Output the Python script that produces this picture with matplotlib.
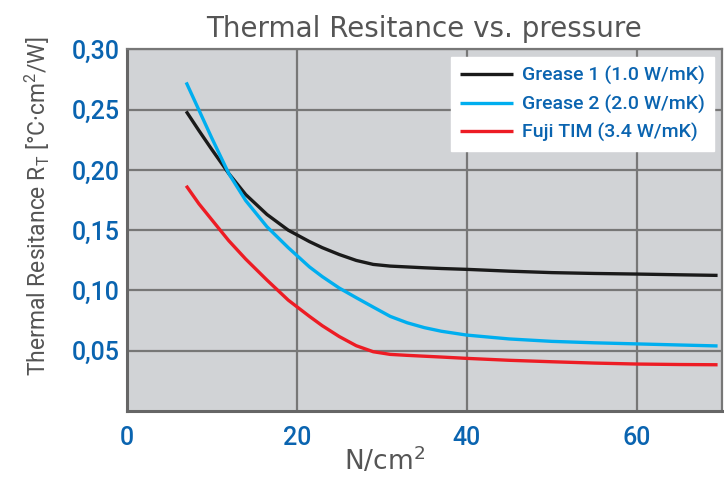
import matplotlib.pyplot as plt

# pressure in N/cm^2 and thermal resistance in degC.cm^2/W
pressure = [7, 8.5, 10, 12, 14, 16.5, 19, 21.5, 23, 25, 27, 29, 31, 33, 35, 37, 40, 45, 50, 55, 60, 65, 69.5]
grease1 = [0.2485, 0.2325, 0.217, 0.197, 0.1795, 0.163, 0.150, 0.1405, 0.1355, 0.1298, 0.1249,
           0.1216, 0.1202, 0.1195, 0.1188, 0.1182, 0.1175, 0.1160, 0.1148, 0.1141, 0.1136, 0.1130, 0.1125]
grease2 = [0.2725, 0.2495, 0.2265, 0.197, 0.1745, 0.1528, 0.1355, 0.1195, 0.1115, 0.102, 0.094,
           0.0862, 0.0785, 0.0732, 0.0692, 0.0662, 0.063, 0.0598, 0.0578, 0.0566, 0.0557, 0.0548, 0.054]
fuji_tim = [0.1868, 0.1718, 0.1587, 0.1413, 0.126, 0.1086, 0.092, 0.0785, 0.0708, 0.0618, 0.0542,
            0.0492, 0.047, 0.0462, 0.0455, 0.0448, 0.0437, 0.0421, 0.0409, 0.0398, 0.039, 0.0386, 0.0384]

series_labels = ["Grease 1 (1.0 W/mK)", "Grease 2 (2.0 W/mK)", "Fuji TIM (3.4 W/mK)"]
series_colors = ["#1a1a1a", "#00aeef", "#ed1c24"]

x_ticks = [0, 20, 40, 60]
y_ticks = [0.05, 0.10, 0.15, 0.20, 0.25, 0.30]
y_tick_labels = ["0,05", "0,10", "0,15", "0,20", "0,25", "0,30"]

narrow = ["Roboto", "DejaVu Sans"]
blue = "#0a64b0"
gray_text = "#555555"

fig = plt.figure(figsize=(7.24, 4.78), dpi=100)
ax = fig.add_axes([0.175, 0.140, 0.822, 0.757])
ax.set_facecolor("#d1d3d6")

for vals, lab, col in zip([grease1, grease2, fuji_tim], series_labels, series_colors):
    ax.plot(pressure, vals, color=col, lw=2.4, label=lab, zorder=3,
            solid_joinstyle="round", solid_capstyle="butt")

ax.set_xlim(0, 70)
ax.set_ylim(0, 0.30)
ax.set_xticks(x_ticks)
ax.set_yticks(y_ticks)
ax.set_yticklabels(y_tick_labels)
ax.grid(True, color="#777777", lw=1.6, zorder=1)
ax.set_axisbelow(True)
ax.tick_params(length=0, pad=5, colors=blue, labelsize=18)
ax.tick_params(axis="x", pad=11)
for lbl in ax.get_xticklabels() + ax.get_yticklabels():
    lbl.set_family(narrow)
    lbl.set_fontweight("medium")

for side in ["top", "right"]:
    ax.spines[side].set_color("#777777")
    ax.spines[side].set_linewidth(1.6)
for side in ["left", "bottom"]:
    ax.spines[side].set_color("#666666")
    ax.spines[side].set_linewidth(2.2)

ax.set_xlabel("N/cm$^\\mathregular{2}$", fontsize=19, color=gray_text, family=["DejaVu Sans"])
ax.xaxis.set_label_coords(0.434, -0.095)
ax.set_ylabel("Thermal Resitance R$_\\mathregular{T}$ [°C·cm$^\\mathregular{2}$/W]",
              fontsize=16.5, color=gray_text, family=narrow)
ax.yaxis.set_label_coords(-0.125, 0.565)
ax.set_title("Thermal Resitance vs. pressure", fontsize=20, color=gray_text,
             family=["DejaVu Sans"], pad=9)

leg = ax.legend(loc="upper right", frameon=True, fancybox=False,
                facecolor="white", edgecolor="white", framealpha=1,
                handlelength=2.7, handletextpad=0.5, borderpad=0.45, labelspacing=0.5,
                borderaxespad=0.4, prop={"family": narrow, "size": 14, "weight": "medium"})
for t in leg.get_texts():
    t.set_color(blue)

fig.savefig("out.png", dpi=100)
